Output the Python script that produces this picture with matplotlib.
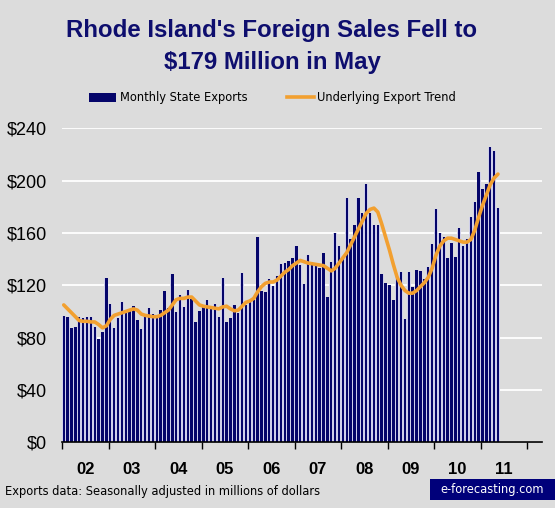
import matplotlib
matplotlib.use('Agg')
import matplotlib.pyplot as plt
import numpy as np
from matplotlib import font_manager
from matplotlib.patches import Patch, Rectangle
from matplotlib.lines import Line2D

# monthly exports, Jan 2002 - May 2011 (millions of dollars)
exports = [
    96.8, 96.0, 87.4, 88.4, 96.0, 94.8, 96.0, 96.0, 88.4, 79.2, 84.6, 125.9,    # 2002
    105.7, 87.4, 94.8, 107.5, 98.6, 101.1, 104.4, 93.7, 86.6, 95.8, 102.7, 98.1,  # 2003
    97.3, 101.1, 115.7, 102.7, 128.7, 99.6, 112.6, 103.5, 116.4, 109.5, 91.9, 100.4,  # 2004
    103.5, 108.8, 101.9, 105.7, 95.8, 125.8, 92.0, 95.0, 105.0, 99.0, 129.4, 105.0,  # 2005
    107.0, 109.0, 157.2, 115.7, 114.9, 124.8, 119.5, 127.1, 136.3, 137.1, 138.6, 140.9,  # 2006
    150.1, 135.5, 121.0, 143.3, 137.9, 135.5, 133.2, 144.7, 111.1, 137.9, 160.0, 150.1,  # 2007
    142.5, 186.8, 155.4, 166.1, 186.8, 175.3, 197.5, 175.0, 166.0, 166.0, 128.8, 121.5,  # 2008
    120.3, 108.6, 127.1, 130.2, 94.3, 130.2, 118.7, 131.7, 131.0, 124.8, 134.0, 151.3,  # 2009
    178.0, 160.0, 157.0, 140.9, 152.6, 141.7, 163.8, 150.1, 155.4, 172.3, 183.7, 206.6,  # 2010
    193.6, 197.5, 225.8, 222.7, 179.0,  # 2011
]

trend = [
    105, 102, 99, 96, 93, 92.5, 92.5, 92, 92, 90, 87.5, 89,
    94, 97, 98, 99, 100, 101, 102, 101, 98, 97, 96.5, 96,
    96, 97, 99, 101, 105, 109, 110, 110, 111, 111, 108, 105,
    104, 103.5, 103, 102.5, 102, 103.5, 104, 102, 100.5, 101, 104, 107,
    108, 110, 115, 119, 121.5, 122.5, 122.5, 124, 127, 130, 132, 135,
    137, 139, 138, 137, 136.5, 136, 135.5, 135, 133, 131, 133, 137,
    141, 145, 151, 157, 163, 169, 175, 178, 179, 176, 167, 157,
    147, 136, 126, 120, 116, 114, 114, 116, 119, 122, 126, 133,
    143, 150, 154, 156, 156, 155, 154, 153, 153, 155, 162, 172,
    181, 189, 197, 202, 205,
]

year_labels = ['02', '03', '04', '05', '06', '07', '08', '09', '10', '11']
y_ticks = [0, 40, 80, 120, 160, 200, 240]
y_labels = ['$0', '$40', '$80', '$120', '$160', '$200', '$240']

BG = '#DCDCDC'
NAVY = '#05056A'
LAV = '#CFCFEA'
ORANGE = '#F2A030'
TITLE_C = '#0E0E6E'
plt.rcParams['font.family'] = ['Liberation Sans', 'DejaVu Sans']


def narrow_font(size_narrow, size_plain):
    # look for a condensed face; otherwise shrink the plain one
    for fam, stretch in [('Liberation Sans Narrow', 'normal'),
                         ('Liberation Sans', 'condensed'),
                         ('DejaVu Sans', 'condensed')]:
        fp = font_manager.FontProperties(family=fam, stretch=stretch, size=size_narrow)
        try:
            path = font_manager.findfont(fp, fallback_to_default=False)
        except Exception:
            continue
        name = path.lower()
        if 'narrow' in name or 'condensed' in name:
            return font_manager.FontProperties(fname=path, size=size_narrow)
    return font_manager.FontProperties(family='Liberation Sans', size=size_plain)


small = narrow_font(9.2, 9.4)

W, H = 555, 508
fig = plt.figure(figsize=(W / 100, H / 100), dpi=100, facecolor=BG)
ax = fig.add_axes([62 / W, 1 - 442.3 / H, 480 / W, (442.3 - 128.3) / H])
ax.set_facecolor(BG)

x = np.arange(len(exports)) + 0.45
ax.bar(x, exports, width=1.0, color=LAV, zorder=1)
ax.bar(x, exports, width=0.62, color=NAVY, zorder=2)
ax.plot(x, trend, color=ORANGE, lw=2.6, zorder=3, solid_capstyle='round')

ax.set_xlim(0, 123.8)
ax.set_ylim(0, 240)

# grid
ax.set_yticks(y_ticks)
ax.set_yticklabels(y_labels)
ax.yaxis.grid(True, color='white', lw=1.3, zorder=0.5)
ax.set_axisbelow(True)
ax.tick_params(axis='y', length=0, pad=11, labelsize=13, labelcolor='black')

# x axis: year boundaries as ticks, labels centred in each year
ax.set_xticks(np.arange(0, 121, 12))
ax.set_xticklabels([])
ax.set_xticks(np.arange(6, 115, 12), minor=True)
ax.set_xticklabels(year_labels, minor=True, fontsize=12, fontweight='bold')
ax.tick_params(axis='x', which='major', length=5, width=1, color='black', direction='out')
ax.tick_params(axis='x', which='minor', length=0, pad=14)

for s in ['top', 'right', 'left']:
    ax.spines[s].set_visible(False)
ax.spines['bottom'].set_color('black')
ax.spines['bottom'].set_linewidth(1.2)
ax.spines['bottom'].set_zorder(4)

# title
fig.text(0.49, 1 - 37 / H, "Rhode Island's Foreign Sales Fell to", ha='center', va='baseline',
         fontsize=17.3, fontweight='bold', color=TITLE_C)
fig.text(0.49, 1 - 69 / H, "$179 Million in May", ha='center', va='baseline',
         fontsize=17.3, fontweight='bold', color=TITLE_C)

# legend
handles = [Patch(facecolor=NAVY, edgecolor='none'),
           Line2D([], [], color=ORANGE, lw=2.6)]
fig.legend(handles, ['Monthly State Exports', 'Underlying Export Trend'],
           loc='center', bbox_to_anchor=(0.491, 1 - 98 / H), ncol=2, frameon=False,
           prop=small, handlelength=2.1, handletextpad=0.3, columnspacing=3.1)

# footer
fig.text(5 / W, 1 - 492 / H, 'Exports data: Seasonally adjusted in millions of dollars',
         ha='left', va='center', fontproperties=small, color='black')
fig.patches.append(Rectangle((430 / W, 1 - 500 / H), 125 / W, 21 / H,
                             transform=fig.transFigure, facecolor='#00007A', edgecolor='none'))
fig.text(492 / W, 1 - 490 / H, 'e-forecasting.com', ha='center', va='center',
         fontproperties=small, color='white')

fig.savefig('out.png', dpi=100, facecolor=BG)
